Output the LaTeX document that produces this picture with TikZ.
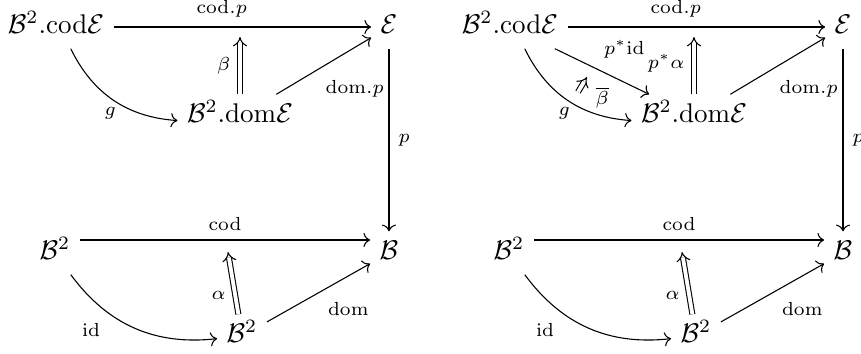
\documentclass[tikz,border=0pt]{standalone}
\usepackage{amsmath}
\usepackage{amssymb}
\usepackage{tikz}
\usetikzlibrary{arrows.meta}

\begin{document}
\begin{tikzpicture}[x=0.37pt,y=0.37pt,
    obj/.style={text height=7pt,text depth=2pt},
    arr/.style={-{To}},
    cell/.style={double,double distance=1.4pt,-{Implies}},
    lab/.style={font=\scriptsize}]
  \useasboundingbox (0,0) rectangle (861,-354);
  % left diagram
  \node[obj] (cE1) at (56,-27) {$\mathcal{B}^2.\mathrm{cod}\mathcal{E}$};
  \node[obj] (E1) at (389,-27) {$\mathcal{E}$};
  \node[obj] (dE1) at (240,-116) {$\mathcal{B}^2.\mathrm{dom}\mathcal{E}$};
  \node[obj] (Ba1) at (55,-253) {$\mathcal{B}^2$};
  \node[obj] (B1) at (389,-253) {$\mathcal{B}$};
  \node[obj] (Bb1) at (242,-336) {$\mathcal{B}^2$};
  \coordinate (b1) at (240,-37);
  \coordinate (a1) at (228,-252);
  \draw[arr] (cE1) -- node[lab,above,pos=0.42] {$\mathrm{cod}.p$} (E1);
  \draw[arr] (cE1) to[bend right=30] node[lab,below left,pos=0.55,inner sep=1pt] {$g$} (dE1);
  \draw[arr] (dE1) -- node[lab,below right,pos=0.42] {$\mathrm{dom}.p$} (E1);
  \draw[cell] (dE1) -- node[lab,left] {$\beta$} (b1);
  \draw[arr] (E1) -- node[lab,right] {$p$} (B1);
  \draw[arr] ([yshift=4.8pt]Ba1.east) -- node[lab,above] {$\mathrm{cod}$} ([yshift=4.8pt]B1.west);
  \draw[arr] (Ba1) to[bend right=30] node[lab,below left,pos=0.32] {$\mathrm{id}$} (Bb1);
  \draw[arr] (Bb1) -- node[lab,below right] {$\mathrm{dom}$} (B1);
  \draw[cell] (Bb1) -- node[lab,left,pos=0.3] {$\alpha$} (a1);
  % right diagram
  \node[obj] (cE2) at (510,-27) {$\mathcal{B}^2.\mathrm{cod}\mathcal{E}$};
  \node[obj] (E2) at (843,-27) {$\mathcal{E}$};
  \node[obj] (dE2) at (694,-116) {$\mathcal{B}^2.\mathrm{dom}\mathcal{E}$};
  \node[obj] (Ba2) at (509,-253) {$\mathcal{B}^2$};
  \node[obj] (B2) at (843,-253) {$\mathcal{B}$};
  \node[obj] (Bb2) at (696,-336) {$\mathcal{B}^2$};
  \coordinate (pa2) at (694,-37);
  \coordinate (a2) at (682,-252);
  \coordinate (bb0) at (578,-92);
  \coordinate (bb1) at (587,-77);
  \draw[arr] (cE2) -- node[lab,above,pos=0.42] {$\mathrm{cod}.p$} (E2);
  \draw[arr] (cE2) to[bend right=30] node[lab,below left,pos=0.55,inner sep=1pt] {$g$} (dE2);
  \draw[arr] (cE2) -- node[lab,above right,pos=0.42] {$p^*\mathrm{id}$} (dE2);
  \draw[cell] (bb0) -- node[lab,at start,anchor=west,xshift=3pt,yshift=-2pt] {$\overline{\beta}$} (bb1);
  \draw[arr] (dE2) -- node[lab,below right,pos=0.42] {$\mathrm{dom}.p$} (E2);
  \draw[cell] (dE2) -- node[lab,left,pos=0.55] {$p^*\alpha$} (pa2);
  \draw[arr] (E2) -- node[lab,right] {$p$} (B2);
  \draw[arr] ([yshift=4.8pt]Ba2.east) -- node[lab,above] {$\mathrm{cod}$} ([yshift=4.8pt]B2.west);
  \draw[arr] (Ba2) to[bend right=30] node[lab,below left,pos=0.32] {$\mathrm{id}$} (Bb2);
  \draw[arr] (Bb2) -- node[lab,below right] {$\mathrm{dom}$} (B2);
  \draw[cell] (Bb2) -- node[lab,left,pos=0.3] {$\alpha$} (a2);
\end{tikzpicture}
\end{document}
